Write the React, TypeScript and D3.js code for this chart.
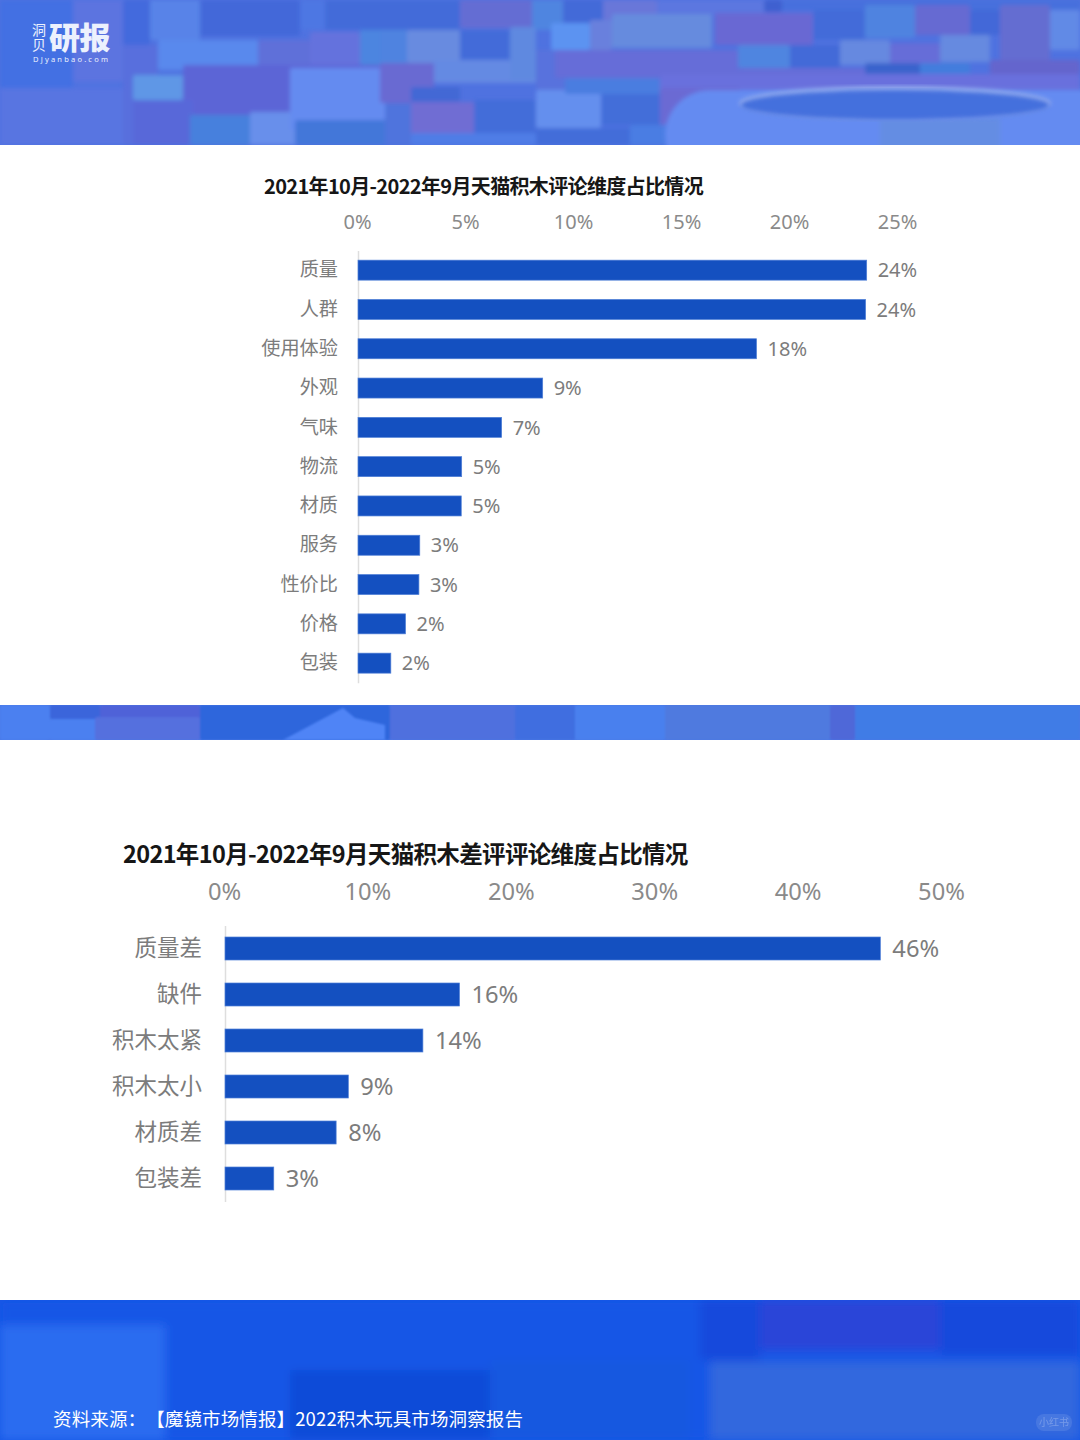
import React, { useEffect, useRef } from "react";
import * as d3 from "d3";

const width = 1080;
const height = 1440;

// upper chart
const reviewTitle = "2021年10月-2022年9月天猫积木评论维度占比情况";
const reviewCategories = ["质量", "人群", "使用体验", "外观", "气味", "物流", "材质", "服务", "性价比", "价格", "包装"];
const reviewValues = [23.55, 23.5, 18.45, 8.55, 6.65, 4.8, 4.78, 2.86, 2.82, 2.2, 1.52];
const reviewTicks = [0, 5, 10, 15, 20, 25];

// lower chart
const badTitle = "2021年10月-2022年9月天猫积木差评评论维度占比情况";
const badCategories = ["质量差", "缺件", "积木太紧", "积木太小", "材质差", "包装差"];
const badValues = [45.7, 16.35, 13.8, 8.6, 7.75, 3.4];
const badTicks = [0, 10, 20, 30, 40, 50];

const sourceText = "资料来源：【魔镜市场情报】2022积木玩具市场洞察报告";

// blurred background blocks: x, y, w, h, fill
type Block = [number, number, number, number, string];
const headerBlocks: Block[] = [
  [0, 0, 73, 88, "#3f70e4"],
  [73, 0, 50, 82, "#5f74e0"],
  [123, 0, 27, 45, "#3f68dc"],
  [150, 0, 50, 40, "#5a88ea"],
  [200, 0, 100, 36, "#3f66d8"],
  [300, 0, 25, 30, "#4e78e4"],
  [325, 0, 135, 30, "#3f6ad8"],
  [0, 88, 133, 57, "#5a76e2"],
  [123, 45, 35, 100, "#5a6edc"],
  [158, 40, 100, 30, "#5b8ff0"],
  [258, 40, 52, 26, "#6470d8"],
  [310, 32, 50, 33, "#6a72dc"],
  [360, 30, 47, 35, "#4b8ae0"],
  [183, 65, 224, 50, "#6062d4"],
  [133, 75, 50, 25, "#64a0e8"],
  [133, 100, 60, 45, "#5a66d8"],
  [190, 115, 60, 30, "#4484dc"],
  [250, 112, 50, 33, "#6e96ee"],
  [290, 68, 95, 62, "#6a92f4"],
  [295, 120, 105, 25, "#3f78d8"],
  [385, 65, 26, 80, "#4f74dc"],
  [460, 0, 72, 28, "#6a6cd0"],
  [532, 0, 31, 30, "#4f8ae0"],
  [563, 0, 40, 23, "#3f68d6"],
  [603, 0, 54, 20, "#6f78d8"],
  [657, 0, 107, 15, "#5f78e0"],
  [764, 0, 18, 12, "#3a5ccc"],
  [782, 0, 298, 10, "#4470dc"],
  [380, 30, 27, 33, "#4f88e0"],
  [407, 30, 53, 33, "#6e92e0"],
  [460, 30, 50, 30, "#3f6ad8"],
  [434, 60, 102, 23, "#6a90e4"],
  [510, 27, 26, 53, "#648fe0"],
  [380, 63, 54, 40, "#7068cf"],
  [411, 87, 49, 15, "#3f66d2"],
  [411, 102, 63, 43, "#786cd0"],
  [474, 100, 62, 33, "#3f6cd8"],
  [411, 133, 125, 12, "#4f80e8"],
  [536, 50, 30, 40, "#5a72dc"],
  [536, 90, 65, 38, "#6b97f2"],
  [601, 92, 60, 33, "#3f6dd8"],
  [536, 128, 94, 17, "#3f6cd8"],
  [551, 23, 39, 27, "#5f9bf6"],
  [590, 20, 22, 30, "#6f84dc"],
  [612, 14, 100, 34, "#6c92de"],
  [715, 13, 98, 32, "#7066d0"],
  [813, 10, 52, 30, "#3f6bd8"],
  [865, 5, 50, 33, "#4f88e0"],
  [915, 5, 55, 30, "#6c68cf"],
  [970, 10, 30, 25, "#3f66d6"],
  [1000, 5, 50, 55, "#6a6ccd"],
  [1050, 10, 30, 40, "#6690e8"],
  [555, 50, 183, 28, "#6c6cd6"],
  [738, 45, 52, 23, "#4f8ae0"],
  [790, 45, 50, 23, "#3f68d6"],
  [840, 40, 50, 25, "#6c8fe0"],
  [890, 43, 50, 22, "#6c6cd6"],
  [940, 35, 50, 27, "#6c90e0"],
  [990, 60, 90, 15, "#6a62c8"],
  [738, 68, 127, 8, "#6c6cd6"],
  [865, 63, 55, 15, "#3560c8"],
  [920, 63, 50, 12, "#4080dc"],
  [565, 78, 95, 16, "#4a80e0"],
  [660, 74, 420, 18, "#7070dc"],
  [660, 88, 80, 37, "#7268d0"],
  [630, 125, 40, 20, "#4a80e4"],
];
const footerBlocks: Block[] = [
  [0, 0, 1080, 140, "#1556e6"],
  [0, 25, 165, 115, "#2a6cf0"],
  [290, 70, 200, 70, "#0e4bd8"],
  [490, 60, 200, 80, "#1258e0"],
  [700, 0, 60, 60, "#1448dc"],
  [760, 0, 180, 50, "#2a45d8"],
  [940, 0, 140, 55, "#1448dc"],
  [710, 62, 370, 78, "#3068de"],
];
const middleBlocks: Block[] = [
  [0, 0, 50, 35, "#4b80f0"],
  [50, 0, 50, 14, "#3a65db"],
  [50, 14, 50, 21, "#4b80f0"],
  [100, 0, 100, 20, "#4f62d8"],
  [95, 12, 105, 23, "#5570de"],
  [200, 0, 190, 35, "#2f66dc"],
  [390, 0, 125, 35, "#5070de"],
  [515, 0, 60, 35, "#3f6ee0"],
  [575, 0, 90, 35, "#4a80ee"],
  [665, 0, 165, 35, "#4f7adf"],
  [830, 0, 25, 35, "#4f68d8"],
  [855, 0, 225, 35, "#3f7ce6"],
];

const fontCjk = "'Noto Sans CJK SC', sans-serif";
const fontLatin = "'Noto Sans', 'Noto Sans CJK SC', sans-serif";

interface ChartSpec {
  title: string;
  titleX: number;
  titleY: number;
  titleSize: number;
  categories: string[];
  values: number[];
  ticks: number[];
  x0: number;
  x1: number;
  y0: number;
  y1: number;
  barHeight: number;
  fontSize: number;
  catSize: number;
  catDy: string;
  tickY: number;
  labelGap: number;
  valueGap: number;
}

function drawChart(svg: d3.Selection<SVGSVGElement, unknown, null, undefined>, c: ChartSpec) {
  const g = svg.append("g");

  g.append("text")
    .attr("x", c.titleX)
    .attr("y", c.titleY)
    .attr("fill", "#161616")
    .style("font-family", fontCjk)
    .style("font-weight", 700)
    .style("font-size", c.titleSize + "px")
    .style("letter-spacing", "-0.65px")
    .text(c.title);

  const x = d3.scaleLinear().domain([c.ticks[0], c.ticks[c.ticks.length - 1]]).range([c.x0, c.x1]);
  const gap = 1 - c.barHeight / ((c.y1 - c.y0) / c.categories.length);
  const y = d3.scaleBand<string>().domain(c.categories).range([c.y0, c.y1]).paddingInner(gap).paddingOuter(gap / 2);

  // top axis: labels only
  const topAxis = d3.axisTop(x).tickValues(c.ticks).tickSize(0).tickFormat(d => `${d}%`);
  const topG = g.append("g").attr("transform", `translate(0,${c.tickY})`).call(topAxis);
  topG.select(".domain").remove();
  topG.selectAll("text")
    .attr("fill", "#8a8a8a")
    .attr("x", -1)
    .attr("y", 0)
    .attr("dy", 0)
    .style("font-family", fontLatin)
    .style("font-size", c.fontSize + "px");

  // left axis
  const leftAxis = d3.axisLeft(y).tickSize(0).tickPadding(c.labelGap);
  const leftG = g.append("g").attr("transform", `translate(${c.x0},0)`).call(leftAxis);
  leftG.select(".domain").attr("stroke", "#dedede").attr("stroke-width", 1.5);
  leftG.selectAll("text")
    .attr("fill", "#7c7c7c")
    .attr("dy", c.catDy)
    .style("font-family", fontCjk)
    .style("font-size", c.catSize + "px");

  g.selectAll("rect.bar")
    .data(c.categories)
    .join("rect")
    .attr("class", "bar")
    .attr("x", c.x0)
    .attr("y", d => y(d)!)
    .attr("width", (_, i) => x(c.values[i]) - c.x0)
    .attr("height", y.bandwidth())
    .attr("fill", "#1450c0")
    .attr("stroke", "#4f7fd6")
    .attr("stroke-width", 0.7);

  g.selectAll("text.value")
    .data(c.categories)
    .join("text")
    .attr("class", "value")
    .attr("x", (_, i) => x(c.values[i]) + c.valueGap)
    .attr("y", d => y(d)! + y.bandwidth() / 2)
    .attr("dy", "0.36em")
    .attr("fill", "#7c7c7c")
    .style("font-family", fontLatin)
    .style("font-size", c.fontSize + "px")
    .text((_, i) => `${Math.round(c.values[i])}%`);
}

function drawBand(
  defs: d3.Selection<SVGDefsElement, unknown, null, undefined>,
  svg: d3.Selection<SVGSVGElement, unknown, null, undefined>,
  id: string,
  top: number,
  h: number,
  base: string,
  blocks: Block[],
  blur: number
) {
  defs.append("filter")
    .attr("id", id + "-blur")
    .attr("x", "-5%").attr("y", "-5%").attr("width", "110%").attr("height", "110%")
    .append("feGaussianBlur")
    .attr("stdDeviation", blur);
  defs.append("clipPath").attr("id", id).append("rect").attr("x", 0).attr("y", top).attr("width", width).attr("height", h);
  const band = svg.append("g").attr("clip-path", `url(#${id})`);
  band.append("rect").attr("x", 0).attr("y", top).attr("width", width).attr("height", h).attr("fill", base);
  band.append("g")
    .attr("filter", `url(#${id}-blur)`)
    .selectAll("rect")
    .data(blocks)
    .join("rect")
    .attr("x", d => d[0])
    .attr("y", d => top + d[1])
    .attr("width", d => d[2])
    .attr("height", d => d[3])
    .attr("rx", 2)
    .attr("fill", d => d[4]);
  return band;
}

export default function App() {
  const svgRef = useRef<SVGSVGElement | null>(null);

  useEffect(() => {
    if (!svgRef.current) return;
    const svg = d3.select(svgRef.current);
    svg.selectAll("*").remove();

    const defs = svg.append("defs");

    svg.append("rect").attr("width", width).attr("height", height).attr("fill", "#ffffff");

    const header = drawBand(defs, svg, "clip-head", 0, 145, "#4f72e0", headerBlocks, 2.2);
    // trampoline in the header
    header.append("rect")
      .attr("x", 665).attr("y", 90).attr("width", 460).attr("height", 90).attr("rx", 45)
      .attr("fill", "#6a92f5").attr("filter", "url(#clip-head-blur)");
    header.append("rect")
      .attr("x", 880).attr("y", 118).attr("width", 120).attr("height", 40)
      .attr("fill", "#6a94e4").attr("filter", "url(#clip-head-blur)");
    header.append("ellipse")
      .attr("cx", 895).attr("cy", 103).attr("rx", 156).attr("ry", 17)
      .attr("fill", "#a4baf2").attr("filter", "url(#clip-head-blur)");
    header.append("ellipse")
      .attr("cx", 895).attr("cy", 105).attr("rx", 154).attr("ry", 15)
      .attr("fill", "#4370dd").attr("filter", "url(#clip-head-blur)");
    // wash over the bricks, the reference is much flatter in tone
    header.append("rect")
      .attr("width", width).attr("height", 145)
      .attr("fill", "#4f72e0").attr("opacity", 0.2);

    const middle = drawBand(defs, svg, "clip-mid", 705, 35, "#4a78e6", middleBlocks, 1.2);
    middle.append("path")
      .attr("d", d3.line()([[283, 740], [343, 708], [355, 718], [385, 725], [385, 740]]) + "Z")
      .attr("fill", "#4f84f6")
      .attr("filter", "url(#clip-mid-blur)");

    const footer = drawBand(defs, svg, "clip-foot", 1300, 140, "#1556e6", footerBlocks, 5);

    // logo
    const logo = svg.append("g").attr("fill", "#ecf1fd").style("font-family", fontCjk);
    logo.append("text").attr("x", 32).attr("y", 35).style("font-size", "14px").text("洞");
    logo.append("text").attr("x", 32).attr("y", 50).style("font-size", "14px").text("贝");
    logo.append("text").attr("x", 49).attr("y", 49).style("font-size", "31px").style("font-weight", 900).style("letter-spacing", "-0.5px").text("研报");
    logo.append("text").attr("x", 33).attr("y", 62).style("font-family", fontLatin).style("font-size", "7.5px").style("letter-spacing", "2.2px").text("DJyanbao.com");

    drawChart(svg, {
      title: reviewTitle, titleX: 264, titleY: 194, titleSize: 20,
      categories: reviewCategories, values: reviewValues, ticks: reviewTicks,
      x0: 358, x1: 898, y0: 250.5, y1: 682.8, barHeight: 20,
      fontSize: 20, catSize: 19.2, catDy: "0.32em", tickY: 229, labelGap: 20, valueGap: 11,
    });
    drawChart(svg, {
      title: badTitle, titleX: 123, titleY: 863, titleSize: 23.5,
      categories: badCategories, values: badValues, ticks: badTicks,
      x0: 225, x1: 942, y0: 925.5, y1: 1201.5, barHeight: 23,
      fontSize: 23.7, catSize: 22.5, catDy: "0.35em", tickY: 900, labelGap: 23, valueGap: 12,
    });

    footer.append("text")
      .attr("x", 53).attr("y", 1426)
      .attr("fill", "#ffffff")
      .style("font-family", fontCjk)
      .style("font-size", "18.5px")
      .style("letter-spacing", "0.13px")
      .style("text-spacing-trim", "space-all")
      .text(sourceText);

    // watermark
    footer.append("rect").attr("x", 1036).attr("y", 1414).attr("width", 36).attr("height", 17).attr("rx", 8).attr("fill", "#ffffff").attr("opacity", 0.1);
    footer.append("text").attr("x", 1054).attr("y", 1426).attr("text-anchor", "middle").attr("fill", "#ffffff").attr("opacity", 0.25).style("font-family", fontCjk).style("font-size", "10px").text("小红书");
  }, []);

  return <svg ref={svgRef} width={width} height={height} style={{ position: "absolute", left: 0, top: 0, display: "block" }} />;
}
